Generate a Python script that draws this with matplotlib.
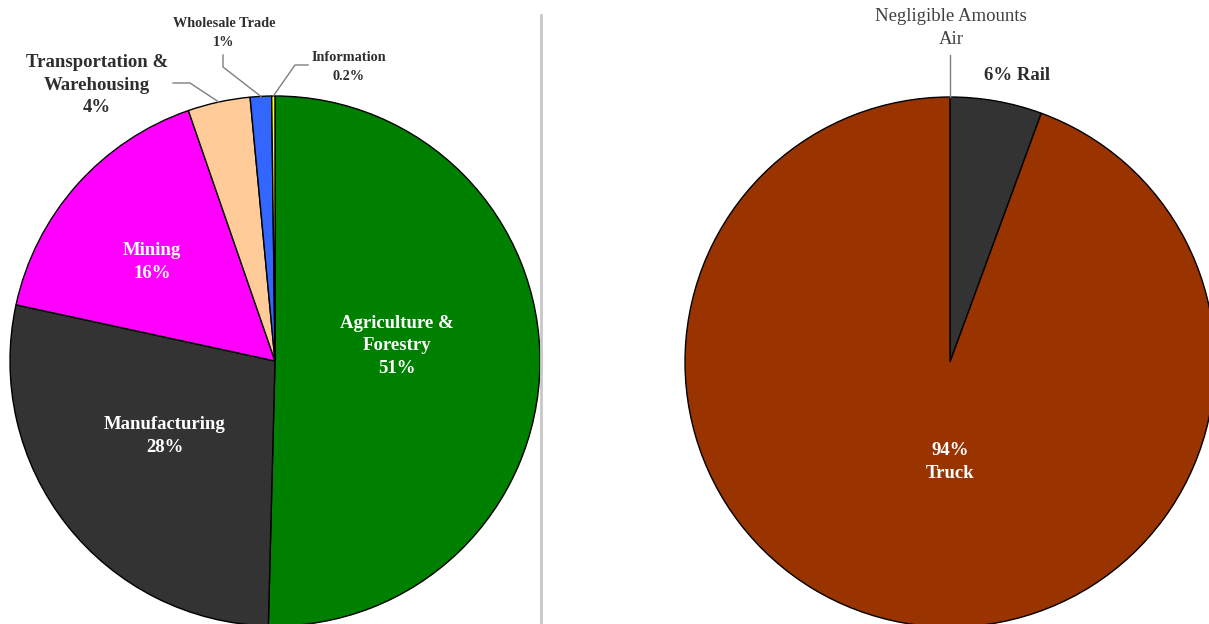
import numpy as np
import matplotlib
matplotlib.use("Agg")
import matplotlib.pyplot as plt
from matplotlib.lines import Line2D

# ---------------- data ----------------
industries = ["Agriculture &\nForestry", "Manufacturing", "Mining",
              "Transportation &\nWarehousing", "Wholesale Trade", "Information"]
industry_share = [50.4, 28.0, 16.3, 3.8, 1.3, 0.2]
industry_pct = ["51%", "28%", "16%", "4%", "1%", "0.2%"]
industry_colors = ["#008000", "#333333", "#FF00FF", "#FFCC99", "#3366FF", "#FFFF00"]

modes = ["Rail", "Truck", "Air"]
mode_share = [5.6, 94.4, 0.0]
mode_pct = ["6%", "94%", "Negligible Amounts"]
mode_colors = ["#333333", "#993300", "#999999"]

# ---------------- layout ----------------
W, H = 1209, 624
fig = plt.figure(figsize=(W / 100, H / 100), dpi=100)
fig.patch.set_facecolor("white")

def px_axes(x0, y0, w, h):
    return fig.add_axes([x0 / W, 1 - (y0 + h) / H, w / W, h / H])

def ftext(x, y, s, ls=1.4, **kw):
    fig.text(x / W, 1 - y / H, s, ha="center", va="center",
             family=["Liberation Serif", "DejaVu Serif"], linespacing=ls, **kw)

def fline(pts, color="#7f7f7f", lw=1.0):
    xs = [p[0] / W for p in pts]
    ys = [1 - p[1] / H for p in pts]
    fig.add_artist(Line2D(xs, ys, transform=fig.transFigure, color=color, lw=lw))

def wedge_point(ax, wedge, r=1.0):
    ang = np.deg2rad((wedge.theta1 + wedge.theta2) / 2)
    cx, cy = wedge.center
    dx, dy = ax.transData.transform((cx + r * np.cos(ang), cy + r * np.sin(ang)))
    return (dx, H - dy)

wp = dict(edgecolor="black", linewidth=1.0)

# Left pie: industries
ax1 = px_axes(10, 96, 530, 530)
w1, _ = ax1.pie(industry_share, colors=industry_colors, startangle=90,
                counterclock=False, radius=1.0, wedgeprops=wp)
ax1.set_xlim(-1, 1)
ax1.set_ylim(-1, 1)
ax1.set_aspect("equal")
ax1.axis("off")

# Right pie: modes (zero shares drawn as label only)
ax2 = px_axes(685, 97, 530, 530)
nz = [i for i, v in enumerate(mode_share) if v > 0]
w2, _ = ax2.pie([mode_share[i] for i in nz], colors=[mode_colors[i] for i in nz],
                startangle=90, counterclock=False, radius=1.0, wedgeprops=wp)
ax2.set_xlim(-1, 1)
ax2.set_ylim(-1, 1)
ax2.set_aspect("equal")
ax2.axis("off")

# separator line
fig.add_artist(Line2D([541 / W, 541 / W], [1 - 15 / H, 0], transform=fig.transFigure,
                      color="#c8c8c8", lw=2))

# ---------------- labels: left ----------------
big = 13.5
dark = "#2e2e2e"
ftext(397, 346, f"{industries[0]}\n{industry_pct[0]}", color="white", fontsize=big, fontweight="bold")
ftext(165, 436, f"{industries[1]}\n{industry_pct[1]}", color="white", fontsize=big, fontweight="bold")
ftext(152, 262, f"{industries[2]}\n{industry_pct[2]}", color="white", fontsize=big, fontweight="bold")
ftext(97, 85, f"{industries[3]}\n{industry_pct[3]}", color=dark, fontsize=big, fontweight="bold")
ftext(224, 33, f"{industries[4]}\n{industry_pct[4]}", ls=1.6, color=dark, fontsize=10.3, fontweight="bold")
ftext(349, 67, f"{industries[5]}\n{industry_pct[5]}", ls=1.6, color=dark, fontsize=10.3, fontweight="bold")

# leader lines
fline([(173, 83), (190, 83), wedge_point(ax1, w1[3])])
fline([(223, 55), (223, 67), wedge_point(ax1, w1[4])])
fline([(308, 65), (295, 65), wedge_point(ax1, w1[5])])

# ---------------- labels: right ----------------
ftext(950, 462, f"{mode_pct[1]}\n{modes[1]}", color="white", fontsize=big, fontweight="bold")
ftext(1017, 76, f"{mode_pct[0]} {modes[0]}", color=dark, fontsize=big, fontweight="bold")
ftext(951, 28, f"{mode_pct[2]}\n{modes[2]}", color="#404040", fontsize=13.5)
# Air leader: straight down to the zero-width wedge at the top of the pie
top_pt = ax2.transData.transform((0, 1.0))
fline([(950, 55), (top_pt[0], H - top_pt[1])])

fig.savefig("out.png", dpi=100, facecolor="white")
